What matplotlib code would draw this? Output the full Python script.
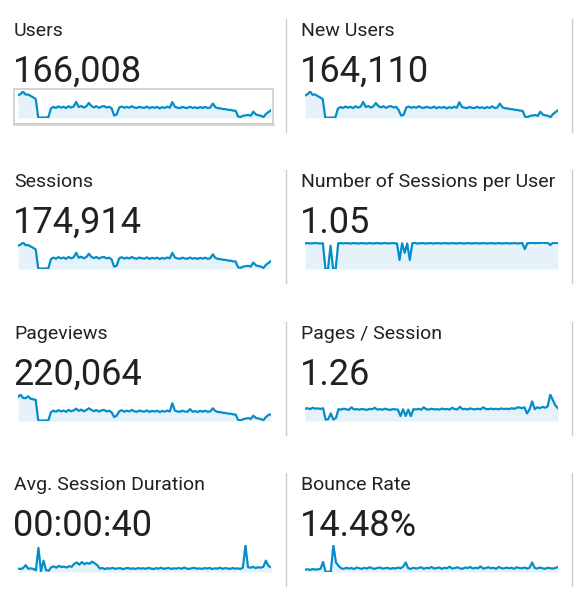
import numpy as np
import matplotlib
matplotlib.use("Agg")
import matplotlib.pyplot as plt
from matplotlib.patches import Rectangle
from matplotlib.lines import Line2D

plt.rcParams['font.family'] = ['Roboto', 'DejaVu Sans']

# metric names and headline values
titles = ["Users", "New Users", "Sessions", "Number of Sessions per User",
          "Pageviews", "Pages / Session", "Avg. Session Duration", "Bounce Rate"]
totals = ["166,008", "164,110", "174,914", "1.05",
          "220,064", "1.26", "00:00:40", "14.48%"]

# daily sparkline values
users = [860, 905, 1000, 885, 890, 835, 780, 720,
         20, 15, 18, 20, 25,
         360, 420, 380, 440, 390, 425, 375, 445, 395, 430,
         610, 415, 455, 395, 440, 570,
         455, 400, 445, 385, 430, 450, 395, 425, 370,
         95, 130,
         395, 435, 385, 420, 390, 445, 395, 380, 425,
         395, 385, 430, 370, 415, 385, 420, 365, 410, 380, 425, 390,
         600,
         425, 390, 375, 420, 385, 380, 425, 380, 405, 370, 415, 380, 420, 375, 395,
         545,
         410, 370, 365, 340, 335, 310, 305, 280, 275,
         55, 40, 85, 100, 115, 85,
         240,
         135, 105, 85, 35,
         150, 225, 295]

new_users = [840, 890, 990, 870, 880, 820, 770, 710,
             15, 12, 15, 18, 20,
             350, 410, 375, 430, 385, 420, 370, 440, 390, 425,
             600, 410, 450, 390, 435, 560,
             445, 395, 440, 380, 425, 445, 390, 420, 300,
             90, 120,
             390, 430, 380, 415, 385, 440, 390, 375, 420,
             390, 380, 425, 365, 410, 380, 415, 360, 405, 375, 420, 385,
             590,
             420, 385, 370, 415, 380, 375, 420, 375, 400, 365, 410, 375, 440, 370, 390,
             540,
             405, 365, 360, 335, 330, 305, 300, 275, 270,
             50, 35, 80, 95, 110, 80,
             235,
             130, 100, 80, 30,
             145, 220, 290]

sessions = [880, 920, 1000, 900, 905, 850, 800, 740,
            20, 15, 18, 20, 25,
            370, 430, 390, 450, 400, 435, 385, 455, 405, 440,
            615, 425, 465, 405, 450, 575,
            460, 410, 455, 395, 440, 455, 400, 430, 360,
            90, 125,
            405, 445, 395, 430, 400, 455, 405, 390, 435,
            405, 395, 440, 380, 425, 395, 430, 375, 420, 390, 435, 400,
            610,
            435, 400, 385, 430, 395, 390, 435, 390, 415, 380, 425, 390, 430, 385, 405,
            555,
            420, 380, 375, 350, 345, 320, 315, 290, 285,
            60, 45, 90, 105, 120, 90,
            245,
            140, 110, 90, 40,
            155, 230, 300]

sessions_per_user = [1.05, 1.06, 1.04, 1.05, 1.06, 1.05, 1.04, 1.05,
                     0.0, 0.0, 0.95, 0.0, 0.0,
                     1.05, 1.06, 1.04, 1.06, 1.05, 1.04, 1.06, 1.05, 1.04, 1.06,
                     1.05, 1.04, 1.06, 1.05, 1.04, 1.06, 1.05, 1.04, 1.06, 1.05,
                     1.04, 1.06, 1.05, 1.04, 0.37, 1.05, 0.66, 1.04, 0.37, 1.05,
                     1.06, 1.04, 1.05, 1.06, 1.04, 1.05, 1.06, 1.04, 1.05, 1.06,
                     1.04, 1.05, 1.06, 1.04, 1.05, 1.06, 1.04, 1.05, 1.06, 1.04,
                     1.05, 1.06, 1.04, 1.05, 1.06, 1.04, 1.05, 1.06, 1.04, 1.05,
                     1.06, 1.04, 1.05, 1.06, 1.04, 1.05, 1.06, 1.04, 1.05, 1.06,
                     1.04, 1.05, 1.06, 0.81, 1.05, 1.06, 1.07, 1.05, 1.07, 1.06,
                     1.08, 1.06, 1.07, 0.98, 1.07, 1.06, 1.07]

pageviews = [900, 1000, 870, 860, 930, 840, 820, 800,
             20, 15, 18, 20, 25,
             330, 390, 350, 410, 360, 395, 345, 420, 365, 400,
             470, 385, 430, 365, 415, 480,
             420, 370, 415, 355, 400, 420, 360, 390, 330,
             150, 200,
             365, 405, 350, 390, 360, 420, 365, 345, 395,
             365, 355, 400, 340, 385, 355, 390, 335, 380, 350, 395, 360,
             670,
             395, 360, 345, 390, 355, 350, 450, 350, 375, 340, 385, 350, 390, 345, 365,
             480,
             380, 340, 335, 310, 305, 280, 275, 250, 245,
             40, 25, 70, 90, 110, 80,
             200,
             120, 95, 75, 30,
             150, 230, 250]

pages_per_session = [1.35, 1.40, 1.30, 1.45, 1.35, 1.38, 1.32, 1.40,
                     0.15, 0.20, 0.83, 0.15, 0.35,
                     1.30, 1.25, 1.35, 1.28, 1.22, 1.50, 1.26, 1.30, 1.24, 1.32,
                     1.27, 1.22, 1.33, 1.28, 1.45, 1.25, 1.30, 1.24, 1.35, 1.26,
                     1.22, 1.30, 1.27, 1.24, 0.55, 1.28, 0.55, 1.25, 0.53, 1.30,
                     1.26, 1.33, 1.24, 1.50, 1.28, 1.25, 1.35, 1.27, 1.30, 1.24,
                     1.36, 1.28, 1.32, 1.25, 1.45, 1.30, 1.27, 1.55, 1.29, 1.33,
                     1.26, 1.38, 1.30, 1.28, 1.35, 1.27, 1.50, 1.32, 1.29, 1.36,
                     1.30, 1.34, 1.28, 1.38, 1.31, 1.35, 1.30, 1.40, 1.33, 1.45,
                     1.50, 1.40, 1.50, 0.83, 1.30, 2.15, 1.30, 1.50, 1.40, 1.55,
                     1.45, 1.60, 2.90, 2.30, 1.70, 1.40]

avg_session_duration = [40, 35, 45, 79, 38, 42, 36,
                        20, 278, 8, 131, 20, 15,
                        55, 65, 50, 70, 58, 62, 52, 68, 60,
                        95, 110, 85, 115, 90, 105, 95, 120, 100, 80,
                        40, 46, 34, 44, 38, 48, 36, 42, 45, 33,
                        41, 47, 37, 43, 35, 46, 39, 44, 36, 48,
                        40, 34, 45, 38, 50, 36, 42, 47, 35, 43,
                        39, 46, 37, 52, 40, 35, 44, 48, 38, 42,
                        36, 45, 40, 47, 34, 43, 39, 50, 37, 44,
                        41, 36, 46, 38, 43, 35, 50,
                        306, 55, 50, 60, 45, 55, 50, 60, 131, 70, 55]

bounce_rate = [9, 10, 8, 11, 9, 10, 12,
               38, 0, 1, 2, 100, 36, 23,
               14, 12, 16, 13, 15, 11, 17, 14, 12, 16,
               13, 18, 14, 12, 15, 17, 13, 14, 16, 12,
               15, 13, 17, 14, 20, 36, 14, 12, 16, 13,
               15, 18, 12, 16, 14, 19, 13, 15, 17, 12,
               16, 14, 20, 13, 15, 18, 14, 12, 17, 15,
               19, 13, 16, 14, 21, 13, 15, 18, 14, 16,
               12, 19, 15, 13, 17, 14, 16, 12, 18, 15,
               14, 17, 13, 16, 36, 15, 13, 17, 14, 12,
               16, 14, 13, 15, 19]

series = [users, new_users, sessions, sessions_per_user,
          pageviews, pages_per_session, avg_session_duration, bounce_rate]

W, H = 583, 605
LINE = '#058dc7'
FILL = '#e5f2fa'
TEXT = '#212121'
GRID = '#cccccc'

fig = plt.figure(figsize=(W / 100, H / 100), dpi=100)


def rect(x, y, w, h):
    return [x / W, 1 - (y + h) / H, w / W, h / H]


row_off = [0, 151, 303, 454]
col_off = [0, 287]

for i, (t, v, data) in enumerate(zip(titles, totals, series)):
    r, c = divmod(i, 2)
    dx, dy = col_off[c], row_off[r]
    fig.text((14 + dx) / W, 1 - (36 + dy) / H, t, fontsize=14,
             color=TEXT, va='baseline', ha='left')
    fig.text((13 + dx) / W, 1 - (82 + dy) / H, v, fontsize=26,
             color=TEXT, va='baseline', ha='left')

    ax = fig.add_axes(rect(18 + dx, 91 + dy, 253, 27))
    y = np.array(data, dtype=float)
    x = np.arange(len(y))
    ax.fill_between(x, 0, y, color=FILL, lw=0)
    ax.plot(x, y, color=LINE, lw=1.6)
    ax.set_xlim(0, len(y) - 1)
    ax.set_ylim(0, y.max() * 1.02)
    ax.axis('off')

    # vertical separator right of each cell
    sx = 286 if c == 0 else 571.5
    fig.add_artist(Line2D([sx / W, sx / W],
                          [1 - (19 + dy) / H, 1 - (132 + dy) / H],
                          color=GRID, lw=1))

# selected-metric box around the Users sparkline
fig.add_artist(Rectangle((14 / W, 1 - 124 / H), 259 / W, 35 / H,
                         fill=False, edgecolor='#d0d0d0', lw=1.3,
                         transform=fig.transFigure))
fig.add_artist(Line2D([14 / W, 273 / W], [1 - 123.5 / H, 1 - 123.5 / H],
                      color='#d0d0d0', lw=1.8))

fig.savefig('out.png', dpi=100, facecolor='white')
